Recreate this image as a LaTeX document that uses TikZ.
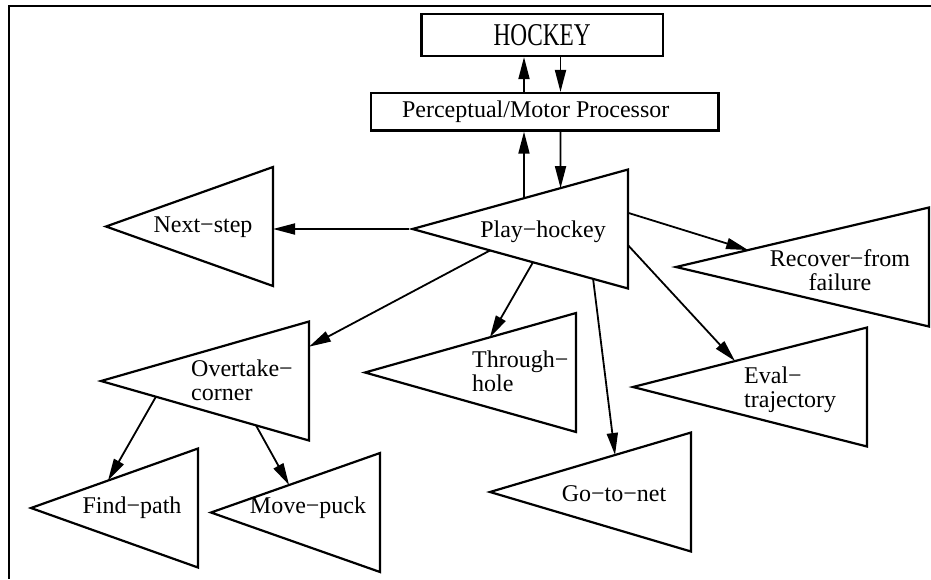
\documentclass[tikz,border=0pt]{standalone}
\usepackage{graphicx}
\usepackage{fontspec}
\setmainfont{Liberation Serif}
\usetikzlibrary{arrows.meta,calc}
\newcommand\mytri[4]{%
  \coordinate (#1-a) at (#2,#3);
  \coordinate (#1-t) at (#4,#3-59.5);
  \coordinate (#1-b) at (#4,#3+59.5);
  \draw[tri] (#1-a) -- (#1-t) -- (#1-b) -- cycle;}
\begin{document}
\begin{tikzpicture}[x=1pt,y=-1pt,
  tri/.style={draw, line width=2.2pt, line join=miter},
  arr/.style={-{Triangle[length=22pt,width=11pt]}, line width=1.8pt},
  lbl/.style={font=\fontsize{24}{24}\selectfont, inner sep=0pt},
  box/.style={draw, line width=2.2pt, inner sep=0pt}]
\useasboundingbox (0,0) rectangle (931,579);
% frame
\draw[line width=2.2pt] (931,6) -- (9,6) -- (9,579);
% boxes
\node[box, minimum width=241.5pt, minimum height=42pt] (hockey) at (542.2,35)
  {\scalebox{0.735}[1]{\fontsize{31.7}{32}\selectfont HOCKEY}};
\node[box, minimum width=347.5pt, minimum height=37.5pt, font=\fontsize{24}{24}\selectfont] (pmp) at (544.7,111.8)
  {\hspace*{-18pt}Perceptual/Motor Processor};
\coordinate (ux) at (524,0);
\coordinate (dx) at (560.5,0);
% triangles
\mytri{ns}{106}{226.5}{273}
\mytri{ph}{412.5}{229}{628}
\mytri{rc}{676}{267}{929}
\mytri{ot}{101}{381}{309}
\mytri{th}{365}{372.5}{576}
\mytri{ev}{633}{387}{867}
\mytri{go}{490}{492}{691}
\mytri{fp}{31}{508}{198}
\mytri{mp}{211}{512.5}{380}
% labels
\node[lbl] (ns-l) at (203,227) {Next−step};
\node[lbl] (ph-l) at (543,232) {Play−hockey};
\node[lbl, align=center] (rc-l) at (840,270) {Recover−from\\failure};
\node[lbl, align=left, anchor=west] (ot-l) at (191,380) {Overtake−\\corner};
\node[lbl, align=left, anchor=west] (th-l) at (472,371.5) {Through−\\hole};
\node[lbl, align=left, anchor=west] (ev-l) at (744,389.5) {Eval−\\trajectory};
\node[lbl] (go-l) at (614,494) {Go−to−net};
\node[lbl] (fp-l) at (132,508) {Find−path};
\node[lbl] (mp-l) at (308,508) {Move−puck};
% connectors
\draw[arr] (ux |- pmp.north) -- (ux |- hockey.south);
\draw[arr] (dx |- hockey.south) -- (dx |- pmp.north);
\draw[arr] ($(ph-a)!0.517!(ph-t)$) -- (ux |- pmp.south);
\draw[arr] (dx |- pmp.south) -- ($(ph-a)!0.687!(ph-t)$);
\draw[arr] ($(ph-a)+(-4,0)$) -- (ns-t |- ph-a);
\draw[arr] ($(ph-t)!0.364!(ph-b)$) -- ($(rc-a)!0.285!(rc-t)$);
\draw[arr] ($(ph-a)!0.36!(ph-b)$) -- ($(ot-t)!0.212!(ot-b)$);
\draw[arr] ($(ph-a)!0.559!(ph-b)$) -- ($(th-a)!0.592!(th-t)$);
\draw[arr] ($(ph-t)!0.636!(ph-b)$) -- ($(ev-a)!0.436!(ev-t)$);
\draw[arr] ($(ph-a)!0.838!(ph-b)$) -- ($(go-a)!0.622!(go-t)$);
\draw[arr] ($(ot-a)!0.264!(ot-b)$) -- ($(fp-a)!0.461!(fp-t)$);
\draw[arr] ($(ot-a)!0.745!(ot-b)$) -- ($(mp-a)!0.462!(mp-t)$);
\end{tikzpicture}
\end{document}
